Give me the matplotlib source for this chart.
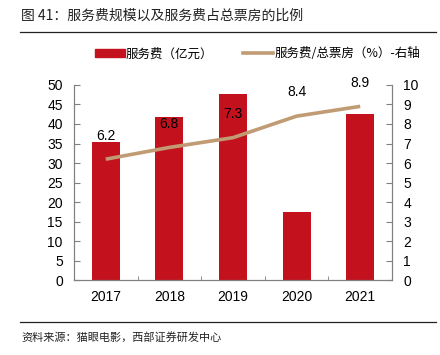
import matplotlib.pyplot as plt
from matplotlib.lines import Line2D
from matplotlib.patches import Patch

plt.rcParams['font.family'] = ['Liberation Sans', 'Noto Sans CJK SC', 'DejaVu Sans']

years = ["2017", "2018", "2019", "2020", "2021"]
fee = [35.3, 41.8, 47.6, 17.5, 42.5]
ratio = [6.2, 6.8, 7.3, 8.4, 8.9]

bar_color = "#C4111E"
line_color = "#C09B74"
axis_color = "#808080"

fig = plt.figure(figsize=(4.4, 3.55), dpi=100)
ax = fig.add_axes([0.168, 0.21, 0.723, 0.551])
ax2 = ax.twinx()

x = list(range(len(years)))
ax.bar(x, fee, width=0.44, color=bar_color, zorder=2)
ax2.plot(x, ratio, color=line_color, lw=2.6, solid_capstyle="butt", zorder=3)
for xi, v in zip(x, ratio):
    ax2.annotate(f"{v}", (xi, v), xytext=(0, 12), textcoords="offset points",
                 ha="center", va="bottom", fontsize=10)

ax.set_xlim(-0.5, 4.5)
ax.set_ylim(0, 50)
ax.set_yticks(range(0, 51, 5))
ax2.set_ylim(0, 10)
ax2.set_yticks(range(0, 11))
ax.set_xticks(x)
ax.set_xticklabels(years)
ax.set_xticks([i + 0.5 for i in range(-1, 5)], minor=True)

ax.set_zorder(1)
ax2.set_zorder(2)
ax2.patch.set_visible(False)

for a in (ax, ax2):
    a.spines["top"].set_visible(False)
    for s in ("left", "right", "bottom"):
        a.spines[s].set_color(axis_color)
        a.spines[s].set_linewidth(0.8)
ax.tick_params(axis="x", which="major", length=0, labelsize=10, pad=7)
ax.tick_params(axis="x", which="minor", direction="in", length=3, color=axis_color)
ax.tick_params(axis="y", direction="in", length=4, color=axis_color, labelsize=10, pad=8)
ax2.tick_params(axis="y", direction="in", length=4, color=axis_color, labelsize=10, pad=8)

handles = [Patch(color=bar_color, label="服务费（亿元）"),
           Line2D([0], [0], color=line_color, lw=2.6, label="服务费/总票房（%）-右轴")]
fig.legend(handles=handles, loc="center", bbox_to_anchor=(0.585, 0.848), ncol=2,
           frameon=False, handlelength=2.4, handletextpad=0.1, columnspacing=2.4,
           prop={'family': ['Noto Sans CJK SC', 'DejaVu Sans'], 'size': 9})

fig.text(0.048, 0.956, "图 41：服务费规模以及服务费占总票房的比例", fontsize=10,
         family=['Noto Sans CJK SC', 'DejaVu Sans'], va="center", color="#222222")
fig.text(0.048, 0.05, "资料来源：猫眼电影，西部证券研发中心", fontsize=8,
         family=['Noto Sans CJK SC', 'DejaVu Sans'], va="center", color="#222222")
fig.add_artist(Line2D([0.045, 0.99], [0.91, 0.91], color="#222222", lw=0.9))
fig.add_artist(Line2D([0.045, 0.99], [0.093, 0.093], color="#222222", lw=0.9))

fig.savefig("out.png", dpi=100)
